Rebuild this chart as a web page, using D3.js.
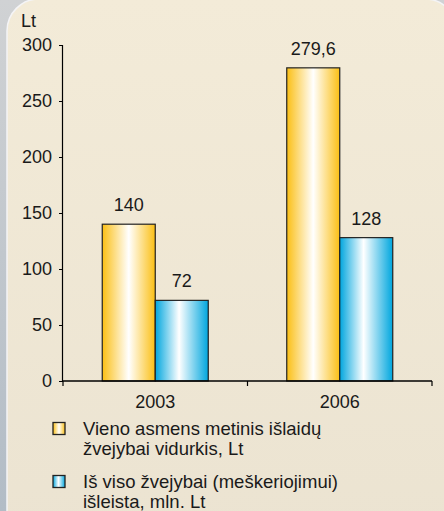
<!DOCTYPE html>
<html><head><meta charset="utf-8">
<script src="https://cdn.jsdelivr.net/npm/d3@7"></script>
<style>html,body{margin:0;padding:0;background:#c8ccd0;}svg{display:block;}</style>
</head><body>
<svg id="c" width="444" height="511"></svg>
<script>
const categories = ["2003", "2006"];
const seriesNames = ["Vieno asmens metinis išlaidų|žvejybai vidurkis, Lt", "Iš viso žvejybai (meškeriojimui)|išleista, mln. Lt"];
const avgPerPerson = [140, 279.6];
const totalSpent = [72, 128];
const valueLabels = [["140", "72"], ["279,6", "128"]];
const yTicks = [0, 50, 100, 150, 200, 250, 300];
const yUnit = "Lt";

const svg = d3.select("#c");
const defs = svg.append("defs");

const bg = defs.append("linearGradient").attr("id","bgL").attr("x1",0).attr("y1",0).attr("x2",0).attr("y2",1);
bg.append("stop").attr("offset","0").attr("stop-color","#d0d2d4");
bg.append("stop").attr("offset","1").attr("stop-color","#b2bcc6");
const pn = defs.append("linearGradient").attr("id","pnl").attr("x1",0).attr("y1",0).attr("x2",0).attr("y2",1);
pn.append("stop").attr("offset","0").attr("stop-color","#f3ebd8");
pn.append("stop").attr("offset","1").attr("stop-color","#ebe3d1");

function barGrad(id, c, mid){
  const g = defs.append("linearGradient").attr("id",id).attr("x1",0).attr("y1",0).attr("x2",1).attr("y2",0);
  g.append("stop").attr("offset","0").attr("stop-color",c);
  g.append("stop").attr("offset",mid).attr("stop-color","#ffffff");
  g.append("stop").attr("offset","1").attr("stop-color",c);
}
barGrad("gO","#fbbf14","0.5");
barGrad("gB","#00a6de","0.45");

svg.append("rect").attr("width",444).attr("height",511).attr("fill","url(#bgL)");
svg.append("rect").attr("x",7).attr("y",-1).attr("width",450).attr("height",560).attr("rx",32)
  .attr("fill","url(#pnl)").attr("stroke","#f4f4f6").attr("stroke-width",1.5);

const x0 = d3.scaleBand().domain(categories).range([63,432]);
const y = d3.scaleLinear().domain([0,300]).range([381,45]);
const x1 = d3.scaleBand().domain([0,1]).range([0,106]);

const data = categories.map((c,i)=>({cat:c, vals:[avgPerPerson[i], totalSpent[i]], labels:valueLabels[i]}));
const fills = ["url(#gO)","url(#gB)"];

const font = "'Liberation Sans', Arial, sans-serif";

// y axis
const yAxis = svg.append("g").attr("transform","translate(63,0)")
  .call(d3.axisLeft(y).tickValues(yTicks).tickSize(4).tickPadding(7).tickFormat(d3.format("d")));
yAxis.select(".domain").attr("stroke","#000").attr("stroke-width",1.2).attr("d","M-0.5,45V381");
yAxis.selectAll(".tick line").attr("stroke","#000");
yAxis.selectAll("text").attr("font-family",font).attr("font-size",18).attr("fill","#1a1a1a");

svg.append("text").attr("x",21).attr("y",27).attr("font-family",font).attr("font-size",18).attr("fill","#1a1a1a").text(yUnit);

// bars
const groups = svg.selectAll(".grp").data(data).join("g").attr("class","grp")
  .attr("transform",d=>`translate(${x0(d.cat)+x0.bandwidth()/2-53},0)`);
groups.selectAll("rect").data(d=>d.vals.map((v,k)=>({v,k}))).join("rect")
  .attr("x",d=>x1(d.k)).attr("y",d=>y(d.v)).attr("width",x1.bandwidth()).attr("height",d=>y(0)-y(d.v))
  .attr("fill",d=>fills[d.k]).attr("stroke","#222").attr("stroke-width",1.2);
groups.selectAll("text.val").data(d=>d.vals.map((v,k)=>({v,k,l:d.labels[k]}))).join("text").attr("class","val")
  .attr("x",d=>x1(d.k)+x1.bandwidth()/2).attr("y",d=>y(d.v)-13).attr("text-anchor","middle")
  .attr("font-family",font).attr("font-size",18).attr("fill","#1a1a1a").text(d=>d.l);

// x axis
const xAxis = svg.append("g").attr("transform","translate(0,381)")
  .call(d3.axisBottom(x0).tickSize(0).tickPadding(14));
xAxis.select(".domain").attr("stroke","#000").attr("stroke-width",1.5).attr("d","M63,0H432");
xAxis.selectAll("text").attr("font-family",font).attr("font-size",18).attr("fill","#1a1a1a");
const bounds = [63, x0("2006"), 432];
svg.append("g").selectAll("line").data(bounds).join("line")
  .attr("x1",d=>d).attr("x2",d=>d).attr("y1",381).attr("y2",386).attr("stroke","#000").attr("stroke-width",1.2);

// legend
const leg = svg.append("g");
const legY = [422.5, 475.5];
seriesNames.forEach((s,i)=>{
  leg.append("rect").attr("x",53).attr("y",legY[i]).attr("width",12).attr("height",12)
    .attr("fill",fills[i]).attr("stroke","#222").attr("stroke-width",1.3);
  const t = leg.append("text").attr("font-family",font).attr("font-size",18.5).attr("fill","#1a1a1a");
  s.split("|").forEach((line,j)=>{
    t.append("tspan").attr("x",83).attr("y",legY[i]+12.5+j*20).text(line);
  });
});
</script>
</body></html>
